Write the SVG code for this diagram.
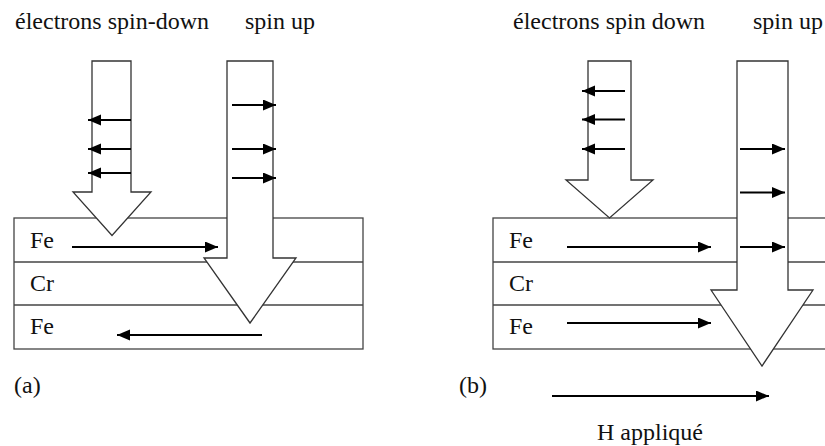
<svg xmlns="http://www.w3.org/2000/svg" width="825" height="446" viewBox="0 0 825 446">
<style>
.layer{fill:none;stroke:#444;stroke-width:1.3}
.big{fill:#fff;stroke:#333;stroke-width:1.3;stroke-linejoin:miter}
.arr{stroke:#000;stroke-width:2;fill:none;marker-end:url(#ah)}
</style>
<defs>
<marker id="ah" markerUnits="userSpaceOnUse" markerWidth="14" markerHeight="12" refX="13" refY="5.5" orient="auto" viewBox="0 0 14 12">
<path d="M0,0 L13,5.5 L0,11 z" fill="#000"/>
</marker>
</defs>
<rect width="825" height="446" fill="#fff"/>

<g id="panel-a" font-family="'Liberation Serif', serif" font-size="24" fill="#111">
<text x="15" y="29">électrons spin-down</text>
<text x="245" y="29">spin up</text>
<g id="stack-a">
<rect class="layer" x="14" y="218" width="349" height="131"/>
<line class="layer" x1="14" y1="262" x2="363" y2="262"/>
<line class="layer" x1="14" y1="305" x2="363" y2="305"/>
<text x="30" y="248">Fe</text>
<text x="30" y="291">Cr</text>
<text x="30" y="334">Fe</text>
</g>
<g id="spin-down-a">
<polygon class="big" points="92,61 131,61 131,192 151,192 112,235.5 73,192 92,192"/>
</g>
<g id="spin-up-a">
<polygon class="big" points="227,61 273,61 273,258 296,258 250,323 204,258 227,258"/>
</g>
<text x="14" y="393">(a)</text>
</g>

<g id="panel-b" font-family="'Liberation Serif', serif" font-size="24" fill="#111">
<text x="513" y="29">électrons spin down</text>
<text x="753" y="29">spin up</text>
<g id="stack-b">
<rect class="layer" x="493" y="218" width="349" height="131"/>
<line class="layer" x1="493" y1="262" x2="842" y2="262"/>
<line class="layer" x1="493" y1="305" x2="842" y2="305"/>
<text x="509" y="248">Fe</text>
<text x="509" y="291">Cr</text>
<text x="509" y="334">Fe</text>
</g>
<g id="spin-down-b">
<polygon class="big" points="588,61 631,61 631,180 653,180 609.5,218 566,180 588,180"/>
</g>
<g id="spin-up-b">
<polygon class="big" points="737,61 788,61 788,290 813,290 762,366 711,290 737,290"/>
</g>
<text x="459" y="393">(b)</text>
<text x="597" y="440">H appliqué</text>
</g>

<g id="connectors">
<line class="arr" x1="131" y1="120" x2="88" y2="120"/>
<line class="arr" x1="131" y1="149" x2="88" y2="149"/>
<line class="arr" x1="131" y1="173" x2="88" y2="173"/>
<line class="arr" x1="232" y1="105" x2="276" y2="105"/>
<line class="arr" x1="232" y1="149" x2="276" y2="149"/>
<line class="arr" x1="232" y1="178" x2="276" y2="178"/>
<line class="arr" x1="72" y1="247" x2="218" y2="247"/>
<line class="arr" x1="262" y1="335" x2="117" y2="335"/>
<line class="arr" x1="625" y1="91" x2="582" y2="91"/>
<line class="arr" x1="625" y1="119.5" x2="582" y2="119.5"/>
<line class="arr" x1="625" y1="149" x2="582" y2="149"/>
<line class="arr" x1="740" y1="149" x2="785" y2="149"/>
<line class="arr" x1="740" y1="192.5" x2="785" y2="192.5"/>
<line class="arr" x1="740" y1="247" x2="785" y2="247"/>
<line class="arr" x1="567" y1="247" x2="711" y2="247"/>
<line class="arr" x1="567" y1="323" x2="711" y2="323"/>
<line class="arr" x1="552" y1="396" x2="769" y2="396"/>
</g>
</svg>
